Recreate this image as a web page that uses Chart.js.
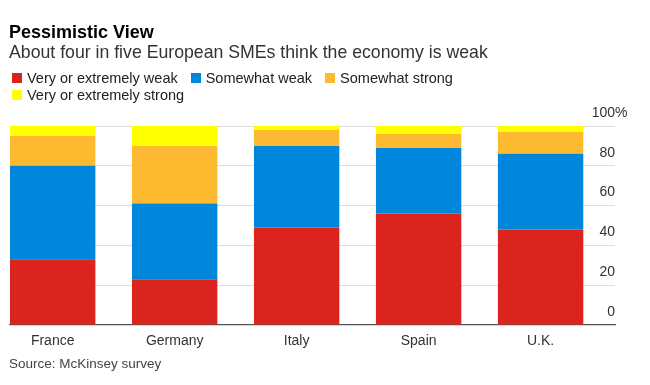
<!DOCTYPE html>
<html>
<head>
<meta charset="utf-8">
<script src="https://cdn.jsdelivr.net/npm/chart.js@4.4.0/dist/chart.umd.min.js"></script>
<style>
  html, body { margin: 0; padding: 0; background: #fff; }
  body { width: 650px; height: 385px; position: relative; overflow: hidden; font-family: "Liberation Sans", Arial, sans-serif; }
  .title { position: absolute; left: 9px; top: 22.5px; font-size: 18px; line-height: 1; font-weight: bold; color: #000; }
  .subtitle { position: absolute; left: 9px; top: 44.4px; font-size: 17.7px; line-height: 1; color: #333; }
  .legend { position: absolute; left: 12px; top: 70px; width: 560px; display: flex; flex-wrap: wrap; column-gap: 13px; font-size: 14.5px; line-height: 16.7px; color: #222; }
  .legend span.sw { display: inline-block; width: 10px; height: 10px; margin-right: 5px; }
  .source { position: absolute; left: 9px; top: 357px; font-size: 13.5px; line-height: 1; color: #444; }
  #wrap { position: absolute; left: 0; top: 0; width: 650px; height: 385px; }
</style>
</head>
<body>
<div id="wrap"><canvas id="chart"></canvas></div>
<div class="title">Pessimistic View</div>
<div class="subtitle">About four in five European SMEs think the economy is weak</div>
<div class="legend" id="legend"></div>
<div class="source">Source: McKinsey survey</div>
<script>
// data (percent of SMEs)
const countries = ["France", "Germany", "Italy", "Spain", "U.K."];
const seriesNames = ["Very or extremely weak", "Somewhat weak", "Somewhat strong", "Very or extremely strong"];
const veryWeak = [33, 23, 49, 56, 48];
const somewhatWeak = [47, 38, 41, 33, 38];
const somewhatStrong = [15, 29, 8, 7, 11];
const veryStrong = [5, 10, 2, 4, 3];
const yTicks = [0, 20, 40, 60, 80, 100];

const colors = ["#dc241f", "#0087dc", "#fdb92f", "#ffff00"];
const allSeries = [veryWeak, somewhatWeak, somewhatStrong, veryStrong];

// html legend
const legendEl = document.getElementById("legend");
seriesNames.forEach((name, i) => {
    const item = document.createElement("div");
    item.innerHTML = '<span class="sw" style="background:' + colors[i] + '"></span>' + name;
    legendEl.appendChild(item);
});

Chart.defaults.font.family = '"Liberation Sans", Arial, sans-serif';

// draws the "%" after the top tick so the numbers stay right-aligned
const percentSign = {
    id: "percentSign",
    afterDraw(chart) {
        const y = chart.scales.y;
        const ctx = chart.ctx;
        ctx.save();
        ctx.font = '14px "Liberation Sans", Arial, sans-serif';
        ctx.fillStyle = "#333";
        ctx.textAlign = "left";
        ctx.textBaseline = "middle";
        ctx.fillText("%", chart.chartArea.right, y.getPixelForValue(100) - 13);
        ctx.restore();
    }
};

const ctx = document.getElementById("chart").getContext("2d");
new Chart(ctx, {
    type: "bar",
    data: {
        datasets: allSeries.map((vals, i) => ({
            label: seriesNames[i],
            data: vals.map((v, j) => ({ x: j, y: v })),
            backgroundColor: colors[i],
            borderWidth: 0,
            barPercentage: 0.7,
            categoryPercentage: 1
        }))
    },
    options: {
        responsive: true,
        maintainAspectRatio: false,
        animation: false,
        layout: { padding: { left: 10, right: 35, top: 126, bottom: 35.3 } },
        plugins: { legend: { display: false }, tooltip: { enabled: false } },
        scales: {
            x: {
                type: "linear",
                stacked: true,
                offset: false,
                min: -0.35,
                max: 4.61,
                grid: { display: false, offset: false },
                border: { display: true, color: "#555", width: 1.2 },
                afterBuildTicks: (axis) => { axis.ticks = countries.map((c, i) => ({ value: i })); },
                ticks: {
                    callback: (v, i) => countries[i],
                    color: "#333",
                    font: { size: 14 },
                    padding: 0,
                    maxRotation: 0,
                    autoSkip: false
                }
            },
            y: {
                position: "right",
                stacked: true,
                min: 0,
                max: 100,
                afterBuildTicks: (axis) => { axis.ticks = yTicks.map(v => ({ value: v })); },
                grid: { color: "#dddddd", lineWidth: 1, drawTicks: false },
                border: { display: false },
                ticks: {
                    mirror: true,
                    padding: 0,
                    labelOffset: -13,
                    color: "#333",
                    font: { size: 14 }
                }
            }
        }
    },
    plugins: [percentSign]
});
</script>
</body>
</html>
